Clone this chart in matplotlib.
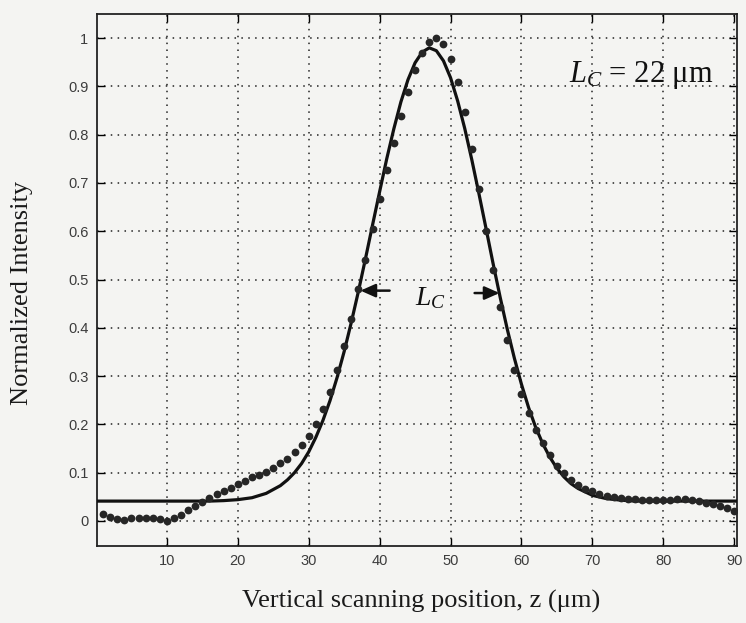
import matplotlib
matplotlib.use("Agg")
import matplotlib.pyplot as plt

# measured points: vertical scanning position (um) and normalized intensity
z_data = list(range(1, 91))
i_data = [0.014, 0.008, 0.003, 0.001, 0.005, 0.007, 0.007, 0.006, 0.003, 0.000,
          0.006, 0.013, 0.022, 0.031, 0.039, 0.047, 0.055, 0.062, 0.069, 0.076,
          0.083, 0.090, 0.096, 0.102, 0.110, 0.119, 0.129, 0.143, 0.157, 0.176,
          0.200, 0.231, 0.268, 0.312, 0.362, 0.419, 0.480, 0.541, 0.604, 0.666,
          0.726, 0.783, 0.838, 0.888, 0.935, 0.969, 0.991, 1.000, 0.988, 0.957,
          0.910, 0.846, 0.771, 0.688, 0.601, 0.519, 0.443, 0.374, 0.313, 0.263,
          0.223, 0.188, 0.161, 0.137, 0.114, 0.099, 0.085, 0.075, 0.067, 0.061,
          0.055, 0.051, 0.049, 0.048, 0.046, 0.045, 0.044, 0.044, 0.044, 0.044,
          0.044, 0.045, 0.045, 0.044, 0.042, 0.038, 0.035, 0.031, 0.026, 0.020]

# fitted curve
z_fit = [0.1, 16, 18, 20, 22, 24, 26] + list(range(27, 69)) + [70, 72, 74, 76, 78, 80, 90.4]
i_fit = [0.041, 0.041, 0.042, 0.044, 0.048, 0.057, 0.073,
         0.085, 0.100, 0.119, 0.143, 0.173, 0.208, 0.249, 0.297, 0.351, 0.411,
         0.475, 0.543, 0.613, 0.682, 0.750, 0.812, 0.868, 0.914, 0.949, 0.971,
         0.980, 0.974, 0.953, 0.918, 0.870, 0.813, 0.748, 0.678, 0.606, 0.533,
         0.463, 0.397, 0.337, 0.283, 0.235, 0.194, 0.160, 0.132, 0.109, 0.091,
         0.077, 0.067,
         0.053, 0.046, 0.043, 0.041, 0.041, 0.041, 0.041]

x_ticks = [10, 20, 30, 40, 50, 60, 70, 80, 90]
y_ticks = [0, 0.1, 0.2, 0.3, 0.4, 0.5, 0.6, 0.7, 0.8, 0.9, 1]
y_ticklabels = ["0", "0.1", "0.2", "0.3", "0.4", "0.5", "0.6", "0.7", "0.8", "0.9", "1"]

plt.rcParams['mathtext.fontset'] = 'custom'
plt.rcParams['mathtext.rm'] = 'Liberation Serif'
plt.rcParams['mathtext.it'] = 'Liberation Serif:italic'

bg = "#f4f4f2"
fig = plt.figure(figsize=(7.46, 6.23), dpi=100, facecolor=bg)
ax = fig.add_axes([0.1296, 0.1236, 0.8584, 0.8539], facecolor=bg)

ax.plot(z_fit, i_fit, color="#111111", lw=2.3, zorder=3)
ax.plot(z_data, i_data, "o", color="#262626", ms=5.6, mec="none", zorder=4)

ax.set_xlim(0.1, 90.4)
ax.set_ylim(-0.052, 1.05)
ax.set_xticks(x_ticks)
ax.set_yticks(y_ticks)
ax.set_yticklabels(y_ticklabels)

ax.grid(True, color="#222222", linestyle=(0, (1, 3.5)), lw=1.1)
ax.tick_params(direction="in", length=6, width=1, top=True, right=True,
               labelsize=10.5, labelcolor="#3c3c3c", pad=6)
for lab in ax.get_xticklabels() + ax.get_yticklabels():
    lab.set_family("Liberation Sans")
for sp in ax.spines.values():
    sp.set_linewidth(1.3)
    sp.set_color("#222222")

fig.text(0.5643, 0.034, "Vertical scanning position, z (\u03bcm)", ha="center", va="center",
         family="Liberation Serif", fontsize=19, color="#1a1a1a")
fig.text(0.030, 0.53, "Normalized Intensity", ha="center", va="center", rotation=90,
         family="Liberation Serif", fontsize=19, color="#1a1a1a")

# annotations
ax.text(0.9625, 0.885, "$L_C$ = 22 \u03bcm", transform=ax.transAxes,
        ha="right", va="center", family="Liberation Serif", fontsize=22, color="#111111")
ax.text(47.1, 0.462, r"$L_C$", ha="center", va="center", family="Liberation Serif",
        fontsize=20, color="#111111", zorder=5)
arrow = dict(arrowstyle="-|>,head_length=0.9,head_width=0.4", color="#111111", lw=1.8)
ax.annotate("", xy=(36.9, 0.477), xytext=(41.8, 0.477), arrowprops=arrow, zorder=5)
ax.annotate("", xy=(57.3, 0.472), xytext=(53.0, 0.472), arrowprops=arrow, zorder=5)

fig.savefig("out.png", dpi=100, facecolor=bg)
